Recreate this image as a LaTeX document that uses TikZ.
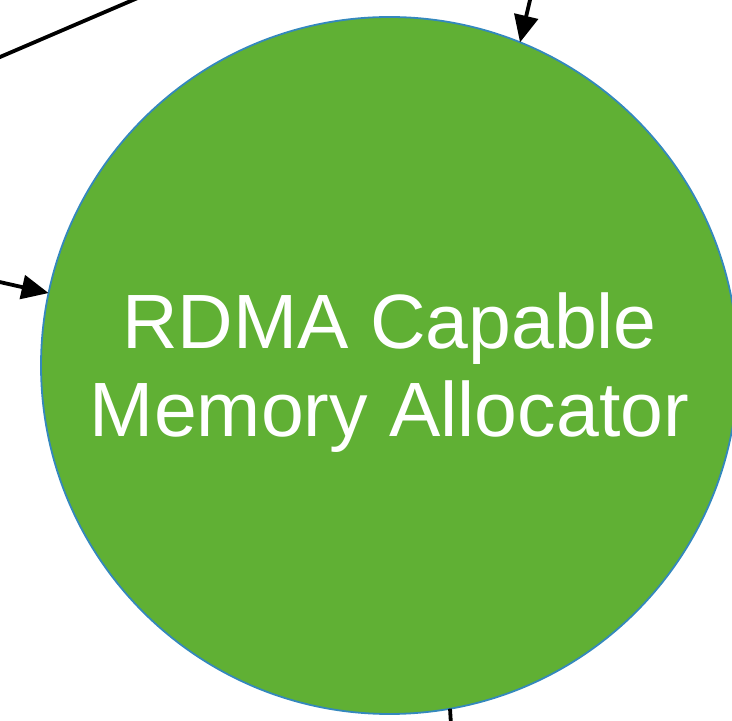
\documentclass[tikz,border=0pt]{standalone}
\usepackage{fontspec}
\setmainfont{Liberation Sans}
\usetikzlibrary{arrows.meta}
\definecolor{allocgreen}{RGB}{96,176,52}
\definecolor{allocedge}{RGB}{52,136,189}
\tikzset{
  blob/.style={circle, fill=allocgreen, draw=allocedge, line width=1.8pt,
    minimum size=697pt, inner sep=0pt, outer sep=0pt},
  caption/.style={text=white, align=center, inner sep=0pt,
    font=\fontsize{77}{88}\selectfont},
  link/.style={draw=black, line width=3.8pt},
  arr/.style={link, -{Triangle[length=27pt,width=24pt]}}
}
\begin{document}
\begin{tikzpicture}[x=1pt,y=1pt]
  \useasboundingbox (0,0) rectangle (732,721);
  \clip (0,0) rectangle (732,721);
  % the allocator
  \node[blob] (alloc) at (389.5,355.5) {};
  \node[caption] (title) at ([yshift=-7pt]alloc.center)
    {RDMA Capable\\Memory Allocator};
  % free ends of the connectors
  \coordinate (diagA) at (-20,655.4);
  \coordinate (diagB) at (160,732.6);
  \coordinate (fromTop) at (534.5,740);
  \coordinate (fromLeft) at (-20,443.4);
  \coordinate (toBottom) at (452,-20);
  % connectors
  \draw[link] (diagA) -- (diagB);
  \draw[arr] (fromTop) -- (alloc.68);
  \draw[arr] (fromLeft) -- (alloc.168);
  \draw[link] (alloc.-80) -- (toBottom);
\end{tikzpicture}
\end{document}
